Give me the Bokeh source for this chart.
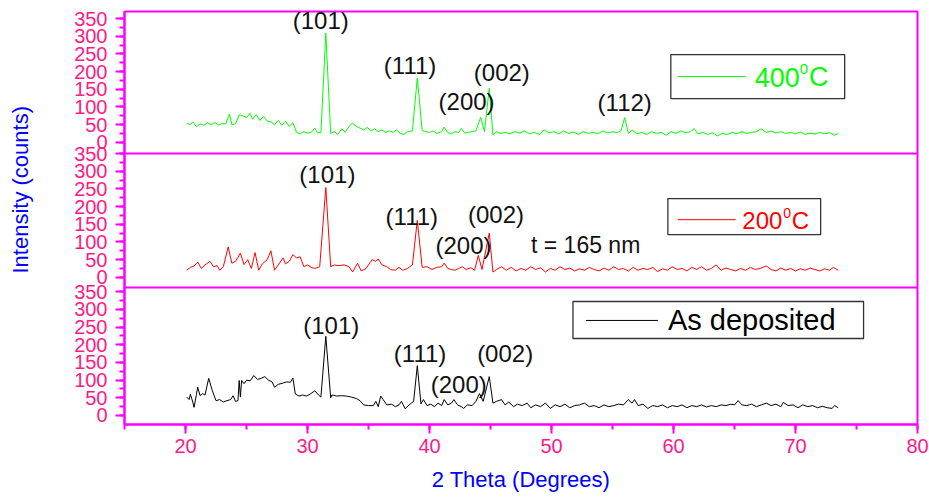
from bokeh.plotting import figure
from bokeh.models import Range1d, FixedTicker, SingleIntervalTicker, Span, Title
from bokeh.embed import file_html
from bokeh.resources import INLINE
from bokeh.core.properties import value

# ---------------- data ----------------
x_400 = [20.1, 20.4, 20.6, 20.9, 21.2, 21.5, 21.8, 22.1, 22.4, 22.7, 23.0, 23.3, 23.6, 23.8, 24.1, 24.4,
         24.7, 25.0, 25.3, 25.5, 25.8, 26.1, 26.4, 26.7, 27.0, 27.3, 27.6, 27.9, 28.2, 28.5, 28.8, 29.1,
         29.4, 29.7, 30.0, 30.3, 30.6, 30.8, 31.1, 31.5, 31.9, 32.2, 32.5, 32.8, 33.1, 33.4, 33.7, 34.0,
         34.3, 34.6, 34.9, 35.2, 35.5, 35.8, 36.1, 36.4, 36.7, 37.0, 37.3, 37.6, 37.9, 38.2, 38.6, 39.0,
         39.4, 39.7, 40.0, 40.3, 40.6, 41.0, 41.2, 41.5, 41.8, 42.1, 42.4, 42.6, 42.9, 43.2, 43.5, 43.8,
         44.2, 44.5, 44.9, 45.2, 45.5, 45.8, 46.2, 46.6, 47.0, 47.4, 47.8, 48.2, 48.6, 49.0, 49.4, 49.8,
         50.2, 50.6, 51.0, 51.4, 51.8, 52.2, 52.6, 53.0, 53.4, 53.8, 54.2, 54.6, 55.0, 55.4, 55.7, 56.0,
         56.3, 56.6, 57.0, 57.4, 57.8, 58.2, 58.6, 59.0, 59.4, 59.8, 60.2, 60.6, 61.0, 61.4, 61.7, 62.0,
         62.4, 62.8, 63.2, 63.6, 64.0, 64.4, 64.8, 65.2, 65.6, 66.0, 66.4, 66.8, 67.2, 67.6, 68.0, 68.4,
         68.8, 69.2, 69.6, 70.0, 70.4, 70.8, 71.2, 71.6, 72.0, 72.4, 72.8, 73.2, 73.5]
y_400 = [54, 50, 58, 44, 52, 48, 55, 50, 56, 49, 53, 52, 80, 50, 52, 78,
         75, 70, 82, 65, 78, 62, 73, 60, 58, 50, 62, 48, 60, 45, 55, 28,
         24, 30, 26, 28, 40, 27, 27, 309, 25, 30, 22, 38, 28, 45, 54, 45,
         40, 35, 42, 33, 38, 30, 35, 28, 32, 28, 35, 25, 22, 30, 32, 182,
         33, 30, 28, 32, 25, 30, 43, 27, 24, 30, 28, 39, 26, 28, 30, 32,
         71, 30, 153, 20, 30, 25, 28, 24, 30, 26, 32, 24, 28, 22, 35, 27,
         30, 24, 32, 25, 29, 22, 30, 25, 28, 24, 32, 26, 30, 27, 33, 70,
         25, 35, 24, 28, 22, 30, 25, 28, 20, 30, 25, 32, 27, 30, 39, 24,
         28, 22, 27, 18, 25, 22, 28, 24, 30, 25, 28, 30, 38, 28, 32, 26,
         30, 25, 28, 24, 29, 22, 26, 23, 28, 24, 27, 20, 25]

x_200 = [20.1, 20.4, 20.7, 21.0, 21.3, 21.6, 22.0, 22.3, 22.6, 22.8, 23.1, 23.5, 23.8, 24.1, 24.5, 24.8,
         25.1, 25.4, 25.7, 26.0, 26.3, 26.7, 27.0, 27.3, 27.6, 28.0, 28.2, 28.5, 28.8, 29.1, 29.4, 29.7,
         30.0, 30.3, 30.6, 31.0, 31.5, 31.9, 32.2, 32.5, 33.0, 33.4, 33.7, 34.1, 34.4, 34.8, 35.3, 35.6,
         35.8, 36.1, 36.5, 36.8, 37.2, 37.5, 37.8, 38.2, 38.6, 39.0, 39.4, 39.8, 40.2, 40.6, 41.0, 41.2,
         41.5, 41.8, 42.1, 42.4, 42.7, 43.0, 43.4, 43.7, 44.0, 44.3, 44.9, 45.2, 45.5, 45.9, 46.3, 46.7,
         47.1, 47.5, 47.9, 48.3, 48.7, 49.1, 49.5, 49.9, 50.3, 50.7, 51.1, 51.5, 51.9, 52.3, 52.7, 53.1,
         53.5, 53.9, 54.3, 54.7, 55.1, 55.5, 55.9, 56.3, 56.7, 57.1, 57.5, 57.9, 58.3, 58.7, 59.1, 59.5,
         59.9, 60.3, 60.7, 61.1, 61.5, 61.9, 62.3, 62.7, 63.1, 63.5, 63.9, 64.3, 64.7, 65.1, 65.5, 65.9,
         66.3, 66.7, 67.1, 67.6, 68.0, 68.4, 68.8, 69.2, 69.6, 70.0, 70.4, 70.8, 71.2, 71.6, 72.0, 72.4,
         72.8, 73.1, 73.5]
y_200 = [20, 28, 32, 43, 25, 35, 45, 30, 33, 20, 30, 86, 40, 45, 68, 36,
         50, 25, 70, 20, 38, 50, 75, 20, 35, 55, 38, 45, 64, 55, 58, 30,
         35, 28, 25, 30, 254, 30, 35, 33, 35, 30, 15, 40, 18, 25, 50, 45,
         52, 35, 30, 22, 20, 28, 20, 25, 35, 161, 28, 30, 22, 28, 30, 40,
         25, 22, 20, 25, 30, 22, 27, 20, 62, 22, 125, 15, 22, 30, 20, 28,
         18, 25, 20, 30, 22, 27, 15, 25, 20, 30, 22, 26, 18, 24, 20, 28,
         22, 18, 26, 20, 30, 22, 25, 18, 28, 20, 25, 22, 28, 16, 24, 20,
         30, 22, 25, 18, 28, 22, 30, 20, 25, 35, 20, 26, 22, 18, 25, 20,
         28, 22, 25, 32, 22, 18, 26, 20, 25, 18, 24, 20, 26, 22, 18, 24,
         20, 28, 20]

x_dep = [20.1, 20.3, 20.4, 20.6, 20.7, 20.9, 21.0, 21.2, 21.4, 21.6, 21.9, 22.2, 22.5, 22.8, 23.1, 23.4,
         23.7, 23.9, 24.1, 24.3, 24.4, 24.5, 24.6, 24.8, 25.0, 25.3, 25.6, 25.9, 26.2, 26.5, 26.8, 27.1,
         27.3, 27.6, 28.0, 28.3, 28.6, 28.8, 29.0, 29.3, 29.6, 29.9, 30.2, 30.6, 30.9, 31.1, 31.5, 31.9,
         32.0, 32.4, 32.8, 33.2, 33.6, 34.0, 34.3, 34.6, 35.0, 35.4, 35.6, 35.8, 36.0, 36.2, 36.5, 36.9,
         37.2, 37.5, 37.7, 38.0, 38.4, 38.7, 39.0, 39.3, 39.5, 39.8, 40.1, 40.4, 40.7, 41.0, 41.2, 41.5,
         41.8, 42.0, 42.3, 42.6, 42.8, 43.1, 43.5, 43.8, 44.1, 44.4, 44.9, 45.2, 45.5, 45.9, 46.2, 46.5,
         46.9, 47.2, 47.6, 48.0, 48.3, 48.7, 49.1, 49.5, 49.9, 50.3, 50.7, 51.1, 51.5, 51.9, 52.3, 52.7,
         53.1, 53.5, 53.9, 54.3, 54.7, 55.1, 55.5, 55.9, 56.3, 56.6, 56.8, 57.1, 57.5, 57.9, 58.3, 58.7,
         59.1, 59.5, 59.9, 60.3, 60.7, 61.1, 61.5, 61.9, 62.3, 62.7, 63.1, 63.5, 63.9, 64.3, 64.7, 65.0,
         65.3, 65.6, 66.0, 66.4, 66.8, 67.2, 67.6, 68.0, 68.4, 68.8, 69.0, 69.4, 69.8, 70.2, 70.6, 71.0,
         71.4, 71.8, 72.2, 72.6, 73.0, 73.2, 73.5]
y_dep = [52, 45, 60, 38, 23, 60, 80, 56, 62, 58, 105, 70, 42, 45, 38, 42,
         45, 56, 40, 42, 99, 52, 99, 90, 100, 98, 113, 102, 105, 110, 100, 95,
         80, 88, 92, 95, 94, 106, 61, 55, 58, 55, 60, 70, 58, 52, 224, 50,
         58, 55, 56, 55, 52, 48, 42, 30, 28, 28, 40, 25, 55, 45, 30, 32,
         25, 30, 40, 19, 32, 40, 141, 33, 45, 28, 32, 25, 35, 28, 45, 30,
         35, 45, 30, 25, 20, 30, 28, 40, 62, 40, 110, 35, 40, 45, 30, 38,
         25, 32, 28, 35, 22, 30, 25, 35, 20, 30, 25, 32, 22, 28, 30, 35,
         25, 28, 22, 30, 25, 28, 32, 30, 45, 35, 45, 28, 32, 20, 28, 25,
         30, 22, 28, 25, 30, 22, 28, 25, 30, 24, 28, 25, 30, 28, 32, 30,
         42, 30, 28, 32, 25, 30, 35, 28, 32, 25, 37, 28, 30, 22, 30, 25,
         28, 22, 26, 22, 20, 28, 22]

y_tick_values = [0, 50, 100, 150, 200, 250, 300, 350]
y_minor_values = [0, 25, 50, 75, 100, 125, 150, 175, 200, 225, 250, 275, 300, 325, 350]

peak_labels = ["(101)", "(111)", "(200)", "(002)", "(112)"]

# ---------------- layout constants ----------------
OFF = {"bot": 0, "mid": 391, "top": 773}
Y0, Y1 = -25.5, 1143.0
FRAME = "#ff00ff"
TICKLBL = "#ff1a85"
FONT = "Liberation Sans"

p = figure(width=929, height=497, x_range=Range1d(15, 80), y_range=Range1d(Y0, Y1),
           output_backend="svg", toolbar_location=None,
           min_border_left=123, min_border_right=12, min_border_top=11, min_border_bottom=73)
p.extra_y_ranges = {
    "top": Range1d(Y0 - OFF["top"], Y1 - OFF["top"]),
    "mid": Range1d(Y0 - OFF["mid"], Y1 - OFF["mid"]),
}
p.grid.visible = False
p.outline_line_color = FRAME
p.outline_line_width = 2
p.outline_line_alpha = 1.0

# y axis: three stacked 0..350 scales on one axis
majors, minors, overrides = [], [], {}
for key in ("bot", "mid", "top"):
    for v in y_tick_values:
        majors.append(v + OFF[key])
        overrides[v + OFF[key]] = str(v)
    for v in y_minor_values:
        minors.append(v + OFF[key])
yax = p.yaxis[0]
yax.ticker = FixedTicker(ticks=majors, minor_ticks=minors)
yax.major_label_overrides = overrides
yax.axis_line_color = FRAME
yax.axis_line_width = 2
yax.major_tick_line_color = FRAME
yax.major_tick_line_width = 2
yax.minor_tick_line_color = FRAME
yax.minor_tick_line_width = 2
yax.major_tick_in = 0
yax.major_tick_out = 9
yax.minor_tick_in = 0
yax.minor_tick_out = 5
yax.major_label_standoff = 8
yax.major_label_text_color = TICKLBL
yax.major_label_text_font = FONT
yax.major_label_text_font_size = "20px"
# blank spacer label so the rotated title sits further out, as in the original
yax.axis_label = " "
yax.axis_label_text_font_size = "2px"
yax.axis_label_standoff = 28

xax = p.xaxis[0]
xax.ticker = SingleIntervalTicker(interval=10, num_minor_ticks=2)
xax.axis_line_color = FRAME
xax.axis_line_width = 2
xax.major_tick_line_color = FRAME
xax.major_tick_line_width = 2
xax.minor_tick_line_color = FRAME
xax.minor_tick_line_width = 2
xax.major_tick_in = 0
xax.major_tick_out = 9
xax.minor_tick_in = 0
xax.minor_tick_out = 5
xax.major_label_standoff = 5
xax.major_label_text_color = TICKLBL
xax.major_label_text_font = FONT
xax.major_label_text_font_size = "20px"
xax.axis_label = "2 Theta (Degrees)"
xax.axis_label_text_color = "#0000ff"
xax.axis_label_text_font = FONT
xax.axis_label_text_font_size = "22px"
xax.axis_label_text_font_style = "normal"
xax.axis_label_standoff = 11

# y axis title (shifted upward like the original)
p.add_layout(Title(text="Intensity (counts)", align="left", offset=151, standoff=10,
                   text_color="#0000ff", text_font=FONT, text_font_size="22px",
                   text_font_style="normal"), "left")

# panel separators
for loc in (362.1, 741.2):
    p.add_layout(Span(location=loc, dimension="width", line_color=FRAME, line_width=2))

# data lines
p.line(x_400, y_400, y_range_name="top", line_color="#00ff00", line_width=1)
p.line(x_200, y_200, y_range_name="mid", line_color="#ff0000", line_width=1)
p.line(x_dep, y_dep, line_color="#000000", line_width=1)

# peak labels
txt = dict(text_font=value(FONT), text_font_size="24px", text_color="#111111",
           text_align="center", text_baseline="middle")
p.text(x=[31.09, 38.41, 43.04, 45.93, 56.0], y=[345, 217, 114, 196, 112],
       text=peak_labels, y_range_name="top", **txt)
p.text(x=[31.63, 38.55, 42.79, 45.45], y=[291, 173, 90, 178],
       text=peak_labels[:4], y_range_name="mid", **txt)
p.text(x=[31.95, 39.23, 42.4, 46.2], y=[254, 175, 88, 175],
       text=peak_labels[:4], **txt)
p.text(x=[48.32], y=[90], text=["t = 165 nm"], y_range_name="mid",
       text_font=value(FONT), text_font_size="23px", text_color="#111111",
       text_align="left", text_baseline="middle")

# legend boxes
p.quad(left=59.78, right=74.03, bottom=123.6, top=248, y_range_name="top",
       fill_color="white", line_color="#333333", line_width=1.3)
p.line([60.35, 65.92], [186, 186], y_range_name="top", line_color="#00ff00", line_width=1)
leg = dict(text_font=value(FONT), text_align="left", text_baseline="middle")
p.text(x=[66.66], y=[184], text=["400"], y_range_name="top", text_color="#00ff00",
       text_font_size="27px", **leg)
p.text(x=[70.35], y=[206], text=["0"], y_range_name="top", text_color="#00ff00",
       text_font_size="15px", **leg)
p.text(x=[71.1], y=[184], text=["C"], y_range_name="top", text_color="#00ff00",
       text_font_size="27px", **leg)

p.quad(left=59.54, right=72.06, bottom=120.8, top=222.6, y_range_name="mid",
       fill_color="white", line_color="#333333", line_width=1.3)
p.line([60.35, 65.10], [163, 163], y_range_name="mid", line_color="#ff0000", line_width=1)
p.text(x=[65.64], y=[162], text=["200"], y_range_name="mid", text_color="#ff0000",
       text_font_size="24px", **leg)
p.text(x=[68.99], y=[182], text=["0"], y_range_name="mid", text_color="#ff0000",
       text_font_size="14px", **leg)
p.text(x=[69.69], y=[162], text=["C"], y_range_name="mid", text_color="#ff0000",
       text_font_size="24px", **leg)

p.quad(left=51.76, right=75.58, bottom=217.8, top=322.5,
       fill_color="white", line_color="#333333", line_width=1.3)
p.line([52.82, 58.72], [268.9, 268.9], line_color="#000000", line_width=1)
p.text(x=[59.54], y=[270], text=["As deposited"], text_color="#000000",
       text_font_size="29px", **leg)

open("out.html", "w").write(file_html(p, INLINE))
